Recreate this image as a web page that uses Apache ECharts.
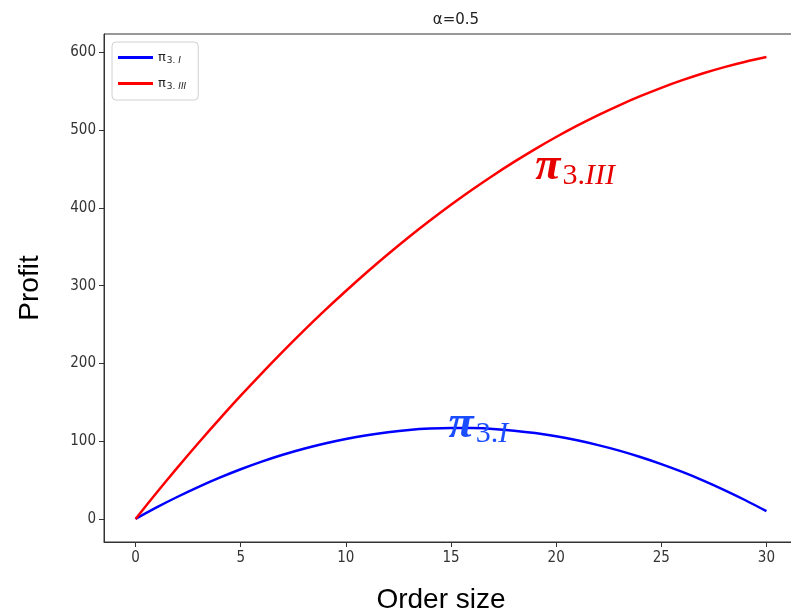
<!DOCTYPE html>
<html>
<head>
<meta charset="utf-8">
<script src="https://cdn.jsdelivr.net/npm/echarts@6/dist/echarts.min.js"></script>
<style>
  html, body { margin: 0; padding: 0; background: #fff; }
  #main { width: 791px; height: 616px; }
</style>
</head>
<body>
<div id="main"></div>
<script>
// order size 0..30
var orderSize = [0, 1, 2, 3, 4, 5, 6, 7, 8, 9, 10, 11, 12, 13, 14, 15,
                 16, 17, 18, 19, 20, 21, 22, 23, 24, 25, 26, 27, 28, 29, 30];
// pi_3.I (blue)
var profitI = [0, 14.8, 28.5, 41.3, 53.1, 63.9, 73.7, 82.5, 90.3, 97.1, 102.9,
               107.7, 111.5, 114.4, 116.2, 117.0, 116.8, 115.7, 113.5, 110.4, 106.2,
               101.1, 94.9, 87.8, 79.6, 70.5, 60.4, 49.3, 37.1, 24.0, 9.9];
// pi_3.III (red)
var profitIII = [0, 33.6, 66.3, 98.0, 128.7, 158.5, 187.3, 215.2, 242.2, 268.2, 293.2,
                 317.3, 340.4, 362.6, 383.8, 404.1, 423.4, 441.8, 459.2, 475.7, 491.2,
                 505.8, 519.4, 532.0, 543.7, 554.5, 564.3, 573.2, 581.1, 588.0, 594.0];
var xTicks = [0, 5, 10, 15, 20, 25, 30];
var yTicks = [0, 100, 200, 300, 400, 500, 600];

function pairs(xs, ys) {
    var out = [];
    for (var i = 0; i < xs.length; i++) {
        out.push([xs[i], ys[i]]);
    }
    return out;
}

var tickFont = 'Liberation Sans Narrow, DejaVu Sans Condensed, DejaVu Sans, sans-serif';
var subRich = {
    p: { fontFamily: 'DejaVu Sans', fontSize: 13, color: '#222' },
    s: { fontFamily: 'DejaVu Sans', fontSize: 9, color: '#222', padding: [6, 0, 0, 1] },
    si: { fontFamily: 'DejaVu Sans', fontSize: 9, fontStyle: 'italic', color: '#222', padding: [6, 0, 0, 0] }
};

// big math-style label next to a curve
function mathLabel(sub, color) {
    return {
        show: true,
        position: 'inside',
        formatter: '{p|π}{s|3.}{i|' + sub + '}',
        rich: {
            p: { fontFamily: 'Liberation Serif', fontStyle: 'italic', fontWeight: 'bold', fontSize: 46, color: color },
            s: { fontFamily: 'Liberation Serif', fontSize: 30, color: color, padding: [18, 0, 0, 2] },
            i: { fontFamily: 'Liberation Serif', fontStyle: 'italic', fontSize: 30, color: color, padding: [18, 0, 0, 0] }
        }
    };
}

var chart = echarts.init(document.getElementById('main'));
chart.setOption({
    backgroundColor: '#fff',
    animation: false,
    title: {
        text: 'α=0.5',
        left: 451,
        textAlign: 'center',
        top: 8,
        textStyle: { fontFamily: 'DejaVu Sans', fontSize: 15, fontWeight: 'normal', color: '#222' }
    },
    legend: {
        orient: 'vertical',
        left: 112,
        top: 42,
        padding: [9, 12, 9, 6],
        itemGap: 12,
        itemWidth: 35,
        itemHeight: 3,
        icon: 'rect',
        borderColor: '#d0d0d0',
        borderWidth: 1,
        borderRadius: 4,
        backgroundColor: '#fff',
        data: ['pi3I', 'pi3III'],
        formatter: function (name) {
            return name === 'pi3I' ? '{p|π}{s|3. }{si|I}' : '{p|π}{s|3. }{si|III}';
        },
        textStyle: { rich: subRich }
    },
    grid: {
        left: 104,
        top: 34,
        width: 694,
        height: 508,
        show: true,
        borderColor: '#333',
        borderWidth: 1,
        containLabel: false,
        outerBoundsMode: 'none'
    },
    xAxis: {
        type: 'value',
        min: -1.5,
        max: 31.5,
        name: 'Order size',
        nameLocation: 'middle',
        nameGap: 44,
        nameTextStyle: { fontFamily: 'Liberation Sans, Arial, sans-serif', fontSize: 28, color: '#000', padding: [0, 20, 0, 0] },
        axisLine: { show: true, onZero: false, lineStyle: { color: '#333', width: 1 } },
        axisTick: { show: true, inside: false, length: 5, customValues: xTicks, lineStyle: { color: '#333' } },
        axisLabel: { customValues: xTicks, margin: 9, fontFamily: tickFont, fontSize: 15, color: '#333' },
        splitLine: { show: false }
    },
    yAxis: {
        type: 'value',
        min: -29.7,
        max: 623.7,
        name: 'Profit',
        nameLocation: 'middle',
        nameGap: 60,
        nameTextStyle: { fontFamily: 'Liberation Sans, Arial, sans-serif', fontSize: 28, color: '#000' },
        axisLine: { show: true, onZero: false, lineStyle: { color: '#333', width: 1 } },
        axisTick: { show: true, inside: false, length: 5, customValues: yTicks, lineStyle: { color: '#333' } },
        axisLabel: { customValues: yTicks, margin: 8, fontFamily: tickFont, fontSize: 15, color: '#333' },
        splitLine: { show: false }
    },
    series: [
        {
            name: 'pi3I',
            type: 'line',
            smooth: 0.3,
            showSymbol: false,
            color: '#0000ff',
            lineStyle: { width: 2.5, color: '#0000ff' },
            data: pairs(orderSize, profitI),
            markPoint: {
                symbol: 'circle',
                symbolSize: 0,
                data: [{ coord: [16.3, 121] }],
                label: mathLabel('I', '#1a4dff')
            }
        },
        {
            name: 'pi3III',
            type: 'line',
            smooth: 0.3,
            showSymbol: false,
            color: '#ff0000',
            lineStyle: { width: 2.5, color: '#ff0000' },
            data: pairs(orderSize, profitIII),
            markPoint: {
                symbol: 'circle',
                symbolSize: 0,
                data: [{ coord: [20.9, 453] }],
                label: mathLabel('III', '#e60000')
            }
        }
    ]
});
</script>
</body>
</html>
